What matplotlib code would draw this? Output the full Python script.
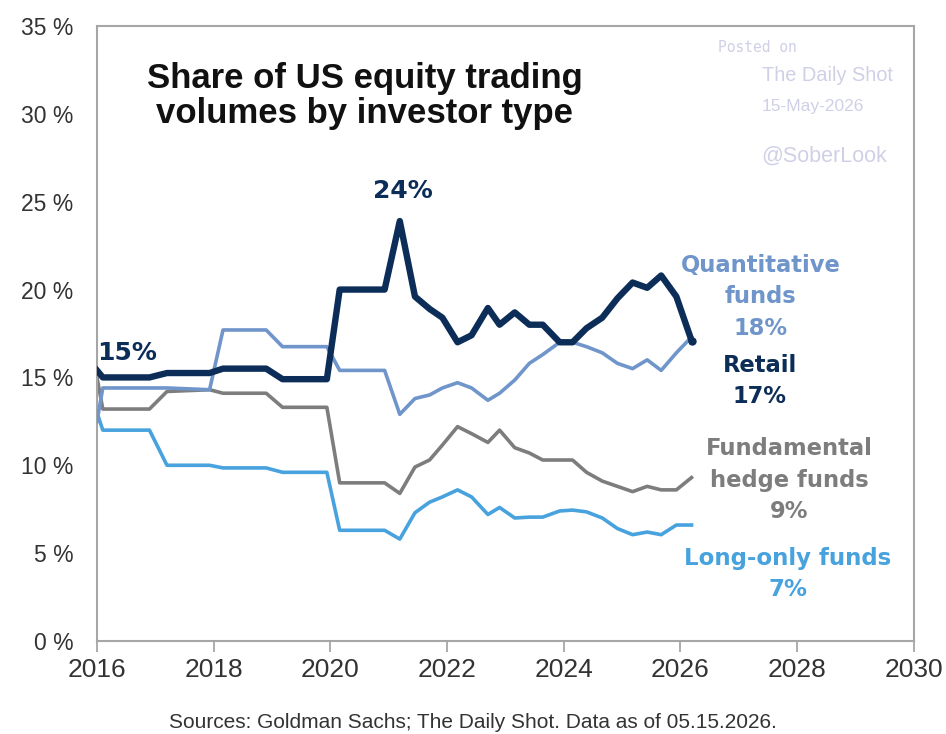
import matplotlib
matplotlib.use("Agg")
import matplotlib.pyplot as plt
from matplotlib.ticker import FuncFormatter

# ---- data ----
dates = [2016.0, 2016.1, 2016.9, 2017.2, 2017.93, 2018.16, 2018.9, 2019.18, 2019.94,
         2020.16, 2020.93, 2021.19, 2021.45, 2021.7, 2021.92, 2022.18, 2022.42, 2022.7,
         2022.9, 2023.16, 2023.41, 2023.64, 2023.93, 2024.15, 2024.39, 2024.66, 2024.92,
         2025.18, 2025.43, 2025.67, 2025.93, 2026.19]
retail = [15.4, 15.0, 15.0, 15.25, 15.25, 15.5, 15.5, 14.9, 14.9,
          20.0, 20.0, 23.9, 19.6, 18.9, 18.4, 17.0, 17.4, 18.95,
          18.0, 18.7, 18.0, 18.0, 17.0, 17.0, 17.8, 18.4, 19.5,
          20.4, 20.1, 20.8, 19.6, 17.1]
quant = [12.5, 14.4, 14.4, 14.4, 14.3, 17.7, 17.7, 16.75, 16.75,
         15.4, 15.4, 12.9, 13.8, 14.0, 14.4, 14.7, 14.4, 13.7,
         14.1, 14.85, 15.8, 16.3, 17.0, 17.0, 16.75, 16.4, 15.8,
         15.5, 16.0, 15.4, 16.4, 17.3]
fundamental = [15.0, 13.2, 13.2, 14.2, 14.3, 14.1, 14.1, 13.3, 13.3,
               9.0, 9.0, 8.4, 9.9, 10.3, 11.15, 12.2, 11.8, 11.3,
               12.0, 11.0, 10.7, 10.3, 10.3, 10.3, 9.6, 9.1, 8.8,
               8.5, 8.8, 8.6, 8.6, 9.3]
long_only = [13.0, 12.0, 12.0, 10.0, 10.0, 9.85, 9.85, 9.6, 9.6,
             6.3, 6.3, 5.8, 7.3, 7.9, 8.2, 8.6, 8.2, 7.2,
             7.6, 7.0, 7.05, 7.05, 7.4, 7.45, 7.35, 7.0, 6.4,
             6.05, 6.2, 6.05, 6.6, 6.6]

x_ticks = [2016, 2018, 2020, 2022, 2024, 2026, 2028, 2030]
y_ticks = [0, 5, 10, 15, 20, 25, 30, 35]

title = "Share of US equity trading\nvolumes by investor type"
source = "Sources: Goldman Sachs; The Daily Shot. Data as of 05.15.2026."

C_RETAIL = "#0c2d58"
C_QUANT = "#6f95cb"
C_FUND = "#7d7d7d"
C_LONG = "#48a2de"
C_WM = "#cfd0e6"

sans = ["Liberation Sans", "DejaVu Sans"]

fig = plt.figure(figsize=(9.46, 7.34), dpi=100)
ax = fig.add_axes([0.1025, 0.1267, 0.8635, 0.8379])

ax.plot(dates, long_only, color=C_LONG, lw=2.6, solid_joinstyle="round", zorder=2)
ax.plot(dates, fundamental, color=C_FUND, lw=2.6, solid_joinstyle="round", zorder=2)
ax.plot(dates, quant, color=C_QUANT, lw=2.6, solid_joinstyle="round", zorder=3)
ax.plot(dates, retail, color=C_RETAIL, lw=4.6, solid_joinstyle="round", zorder=4)
ax.plot(dates[-1], retail[-1], "o", color=C_RETAIL, ms=5, zorder=5)

ax.set_xlim(2016, 2030)
ax.set_ylim(0, 35)
ax.set_xticks(x_ticks)
ax.set_yticks(y_ticks)
ax.yaxis.set_major_formatter(FuncFormatter(lambda v, p: f"{int(v)} %"))

for s in ax.spines.values():
    s.set_color("#a6a6a6")
    s.set_linewidth(1.5)
ax.tick_params(axis="x", direction="out", length=8, width=1.3, color="#a6a6a6", pad=4)
ax.tick_params(axis="y", length=0, pad=17)
for lab in ax.get_xticklabels():
    lab.set_fontfamily(sans)
    lab.set_fontsize(19)
    lab.set_color("#333333")
for lab in ax.get_yticklabels():
    lab.set_fontfamily(sans)
    lab.set_fontsize(16.5)
    lab.set_color("#333333")

# title
ax.text(0.328, 0.886, title, transform=ax.transAxes, ha="center", va="center",
        fontsize=25, fontweight="bold", family=sans,
        color="#111111", linespacing=1.07)

# annotations
bold = ["DejaVu Sans"]
ax.text(2016.0, 16.4, "15%", ha="left", va="center", fontsize=18, fontweight="bold",
        color=C_RETAIL, family=bold)
ax.text(2021.25, 25.6, "24%", ha="center", va="center", fontsize=18, fontweight="bold",
        color=C_RETAIL, family=bold)
ax.text(2027.38, 19.58, "Quantitative\nfunds\n18%", ha="center", va="center", fontsize=16.3,
        fontweight="bold", color=C_QUANT, family=bold, linespacing=1.45)
ax.text(2027.36, 14.8, "Retail\n17%", ha="center", va="center", fontsize=16.3,
        fontweight="bold", color=C_RETAIL, family=bold, linespacing=1.45)
ax.text(2027.87, 9.16, "Fundamental\nhedge funds\n9%", ha="center", va="center", fontsize=16.3,
        fontweight="bold", color=C_FUND, family=bold, linespacing=1.45)
ax.text(2027.84, 3.81, "Long-only funds\n7%", ha="center", va="center", fontsize=16.5,
        fontweight="bold", color=C_LONG, family=bold, linespacing=1.45)

# watermark
ax.text(2026.64, 33.8, "Posted on", fontsize=10.5, color=C_WM, family=["DejaVu Sans Mono"],
        ha="left", va="center")
ax.text(2027.39, 32.2, "The Daily Shot", fontsize=14.4, color=C_WM, family=sans,
        ha="left", va="center")
ax.text(2027.39, 30.4, "15-May-2026", fontsize=12.5, color=C_WM, family=sans,
        ha="left", va="center")
ax.text(2027.39, 27.6, "@SoberLook", fontsize=15.5, color=C_WM, family=sans,
        ha="left", va="center")

fig.text(0.5, 0.016, source, ha="center", va="center", fontsize=15, family=sans,
         color="#333333")

fig.savefig("out.png", dpi=100)
